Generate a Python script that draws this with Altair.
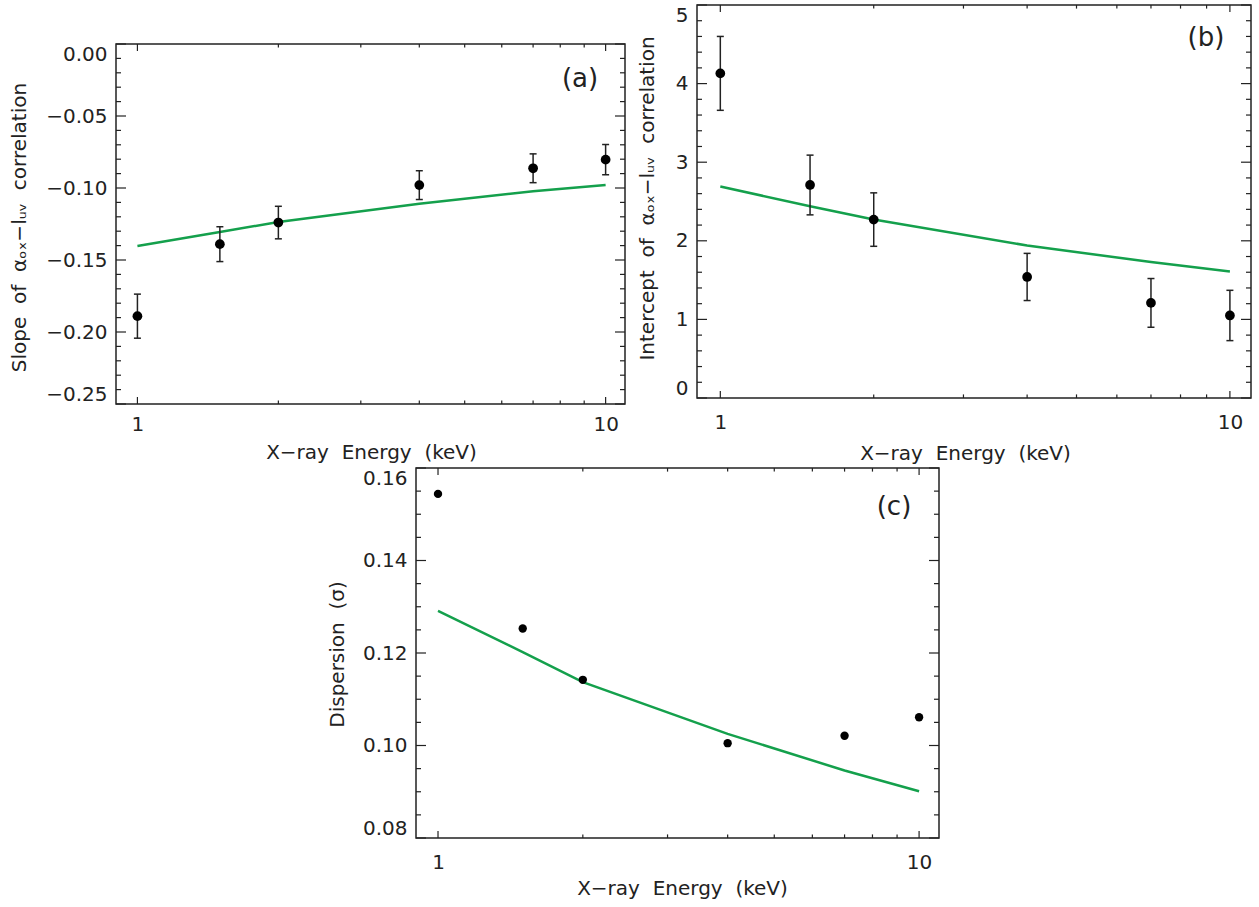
import altair as alt
import pandas as pd

# ---------------- data ----------------
energy = [1, 1.5, 2, 4, 7, 10]

slope_val = [-0.189, -0.139, -0.124, -0.098, -0.0863, -0.0803]
slope_err = [0.0153, 0.0121, 0.0113, 0.0100, 0.0100, 0.0105]
slope_fit = [-0.1403, -0.1306, -0.1236, -0.1109, -0.1023, -0.0979]

icpt_val = [4.13, 2.71, 2.27, 1.54, 1.21, 1.05]
icpt_err = [0.47, 0.38, 0.34, 0.30, 0.31, 0.32]
icpt_fit = [2.69, 2.44, 2.27, 1.94, 1.73, 1.61]

disp_val = [0.1544, 0.1253, 0.1142, 0.1005, 0.1021, 0.1061]
disp_fit = [0.1291, 0.1202, 0.1137, 0.1025, 0.0946, 0.0901]

x_major = [1, 10]
x_minor = [2, 3, 4, 5, 6, 7, 8, 9]

a_major = [-0.25, -0.20, -0.15, -0.10, -0.05, 0.0]
a_minor = [round(-0.25 + 0.01 * i, 3) for i in range(26) if i % 5]
b_major = [0, 1, 2, 3, 4, 5]
b_minor = [round(0.2 * i, 2) for i in range(26) if i % 5]
c_major = [0.08, 0.10, 0.12, 0.14, 0.16]
c_minor = [round(0.08 + 0.005 * i, 3) for i in range(17) if i % 4]

FONT = "DejaVu Sans"
INK = "#222222"
GREEN = "#14a04c"
SP = "\u00a0 "
XTITLE = "X\u2212ray" + SP + "Energy" + SP + "(keV)"
A_TITLE = "Slope" + SP + "of" + SP + "\u03b1\u2092\u2093\u2212l\u1d64\u1d65" + SP + "correlation"
B_TITLE = "Intercept" + SP + "of" + SP + "\u03b1\u2092\u2093\u2212l\u1d64\u1d65" + SP + "correlation"
C_TITLE = "Dispersion" + SP + "(\u03c3)"


def panel(val, err, fit, ydom, ymaj, ymin, yfmt, ytitle, W, H, tag, tagxy,
          ytitle_xy, xtitle_xy, anchor, pt_size, xlab_pad):
    df = pd.DataFrame({"E": energy, "v": val, "fit": fit})
    xs = alt.Scale(type="log", domain=[0.9, 11], nice=False)
    ys = alt.Scale(domain=ydom, nice=False, zero=False)

    xaxis = alt.Axis(values=x_major, format="d", ticks=False, tickSize=0,
                     domain=False, grid=False, labelPadding=xlab_pad,
                     labelFont=FONT, labelFontSize=20, labelColor=INK,
                     title=XTITLE, titleFont=FONT, titleFontSize=20,
                     titleFontWeight="normal", titleColor=INK,
                     titleAlign="center", titleBaseline="alphabetic",
                     titleX=xtitle_xy[0], titleY=xtitle_xy[1])
    yaxis = alt.Axis(values=ymaj, format=yfmt, ticks=False, tickSize=0,
                     domain=False, grid=False, labelFlush=True, labelPadding=9,
                     labelFont=FONT, labelFontSize=20, labelColor=INK,
                     title=ytitle, titleFont=FONT, titleFontSize=20,
                     titleFontWeight="normal", titleColor=INK,
                     titleAngle=270, titleAlign="center", titleBaseline="alphabetic",
                     titleX=ytitle_xy[0], titleY=ytitle_xy[1])

    X = lambda f: alt.X(f, scale=xs, axis=xaxis)
    Y = lambda f: alt.Y(f, scale=ys, axis=yaxis)

    base = alt.Chart(df)
    layers = []
    layers.append(base.mark_line(color=GREEN, strokeWidth=2.5).encode(
        x=X("E:Q"), y=Y("fit:Q")))
    if err is not None:
        edf = pd.DataFrame({"E": energy,
                            "lo": [v - e for v, e in zip(val, err)],
                            "hi": [v + e for v, e in zip(val, err)]})
        eb = alt.Chart(edf)
        layers.append(eb.mark_rule(color=INK, strokeWidth=1.5).encode(
            x=X("E:Q"), y=Y("lo:Q"), y2="hi:Q"))
        for f in ["lo", "hi"]:
            layers.append(eb.mark_tick(color=INK, orient="horizontal", size=7,
                                       thickness=1.5, opacity=1).encode(
                x=X("E:Q"), y=Y(f + ":Q")))
    layers.append(base.mark_circle(size=pt_size, color="black", opacity=1).encode(
        x=X("E:Q"), y=Y("v:Q")))

    # inward ticks on all four sides (IDL style box)
    def yticks(vals, ln):
        d = alt.Chart(pd.DataFrame({"t": vals}))
        return [
            d.mark_rule(color=INK, strokeWidth=1.2).encode(
                y=Y("t:Q"), x=alt.value(0), x2=alt.value(ln)),
            d.mark_rule(color=INK, strokeWidth=1.2).encode(
                y=Y("t:Q"), x=alt.value(W), x2=alt.value(W - ln)),
        ]

    def xticks(vals, ln):
        d = alt.Chart(pd.DataFrame({"t": vals}))
        return [
            d.mark_rule(color=INK, strokeWidth=1.2).encode(
                x=X("t:Q"), y=alt.value(H), y2=alt.value(H - ln)),
            d.mark_rule(color=INK, strokeWidth=1.2).encode(
                x=X("t:Q"), y=alt.value(0), y2=alt.value(ln)),
        ]

    layers += yticks(ymaj, 10) + yticks(ymin, 5) + xticks(x_major, 7) + xticks(x_minor, 3.6)

    one = alt.Chart(pd.DataFrame({"t": [tag]}))
    layers.append(one.mark_text(font=FONT, fontSize=26, color=INK,
                                align="center", baseline="middle").encode(
        text="t:N", x=alt.value(tagxy[0]), y=alt.value(tagxy[1])))
    L, T, R, B = anchor
    layers.append(one.mark_rule(opacity=0, strokeOpacity=0).encode(
        x=alt.value(-L), y=alt.value(-T), x2=alt.value(W + R), y2=alt.value(H + B)))

    return alt.layer(*layers).properties(
        width=W, height=H,
        view=alt.ViewBackground(stroke=INK, strokeWidth=1.5))


def spacer(w, h):
    return alt.Chart(pd.DataFrame({"t": [0]})).mark_point(
        opacity=0, size=1).encode(
        x=alt.value(w / 2), y=alt.value(h / 2)).properties(
        width=w, height=h, view=alt.ViewBackground(strokeOpacity=0, fillOpacity=0))


pa = panel(slope_val, slope_err, slope_fit, [-0.25, 0.0], a_major, a_minor, ".2f",
           A_TITLE, 509, 360, "(a)", (464, 35), (-91, 183), (255, 54), (115, 1, 2, 60), 95, 10)
pb = panel(icpt_val, icpt_err, icpt_fit, [0, 5], b_major, b_minor, "d",
           B_TITLE, 554, 393, "(b)", (509, 33), (-44, 193), (268, 61), (62, 4, 0, 0), 95, 14)
pc = panel(disp_val, None, disp_fit, [0.08, 0.16], c_major, c_minor, ".2f",
           C_TITLE, 523, 370, "(c)", (478, 39), (-73, 186), (266, 56), (100, 2, 0, 0), 70, 14)

left_col = alt.vconcat(spacer(1, 37), pa, spacing=0)
top_row = alt.hconcat(left_col, pb, spacing=6)
bottom_row = alt.hconcat(spacer(199, 1), pc, spacing=0)

chart = alt.vconcat(top_row, bottom_row, spacing=0).properties(
    padding={"left": 0, "top": 0, "right": 0, "bottom": 0}
).configure(background="white")

chart.save("out.html", embed_options={"renderer": "svg", "actions": False})
